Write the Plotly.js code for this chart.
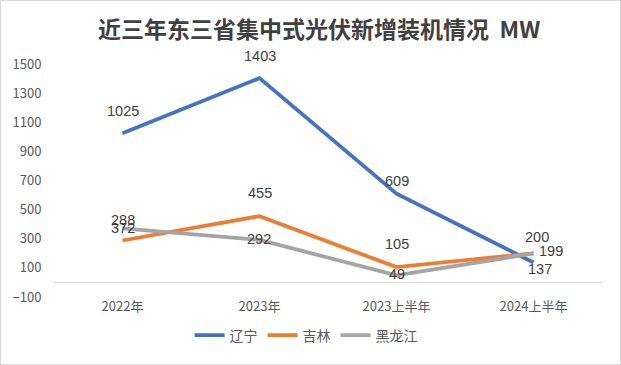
<!DOCTYPE html>
<html>
<head>
<meta charset="utf-8">
<script src="https://cdn.plot.ly/plotly-3.0.1.min.js"></script>
<style>
  html, body { margin: 0; padding: 0; background: #fff; }
  #chart { width: 621px; height: 365px; box-sizing: border-box; border: 1px solid #d9d9d9; }
</style>
</head>
<body>
<div id="chart"></div>
<script>
// ---- data ----
const categories = ['2022年', '2023年', '2023上半年', '2024上半年'];
const seriesNames = ['辽宁', '吉林', '黑龙江'];
const liaoning = [1025, 1403, 609, 137];
const jilin = [288, 455, 105, 200];
const heilongjiang = [372, 292, 49, 199];
const yTickVals = [-100, 100, 300, 500, 700, 900, 1100, 1300, 1500];

// ---- styles ----
const colors = ['#4472C4', '#ED7D31', '#A5A5A5'];
// label offsets (px) per series per point: [xshift, yshift]
const labelShifts = [
  [[0, 22], [0, 22], [0, 13], [6, -7]],
  [[0, 21], [0, 23], [0, 23], [3, 16]],
  [[0, 0], [-1, 1], [0, 1], [17, 2]]
];

const allSeries = [liaoning, jilin, heilongjiang];
const cjk = '"Noto Sans CJK SC", "Noto Sans", sans-serif';

const traces = allSeries.map((vals, i) => ({
  type: 'scatter',
  mode: 'lines',
  x: categories,
  y: vals,
  name: seriesNames[i],
  line: { color: colors[i], width: 3.8 },
  hoverinfo: 'skip'
}));

const annotations = [];
allSeries.forEach((vals, i) => {
  vals.forEach((v, j) => {
    annotations.push({
      x: categories[j], y: v, xref: 'x', yref: 'y',
      text: String(v), showarrow: false,
      xshift: labelShifts[i][j][0], yshift: labelShifts[i][j][1],
      font: { family: '"Liberation Sans", Arial, sans-serif', size: 14.5, color: '#404040' }
    });
  });
});

const layout = {
  width: 619, height: 363,
  margin: { l: 53, r: 18, t: 63, b: 63 },
  paper_bgcolor: '#ffffff', plot_bgcolor: '#ffffff',
  title: {
    text: '<b>近三年东三省集中式光伏新增装机情况\u00a0 MW</b>',
    font: { family: cjk, size: 23, color: '#404040' },
    x: 0.514, xref: 'container', xanchor: 'center',
    y: 1 - 29 / 363, yref: 'container', yanchor: 'middle'
  },
  xaxis: {
    type: 'category',
    range: [-0.5, 3.5],
    showgrid: false, showline: false, zeroline: false,
    ticks: '',
    tickfont: { family: cjk, size: 13, color: '#595959' },
    fixedrange: true
  },
  yaxis: {
    range: [-100, 1500],
    tickvals: yTickVals,
    showgrid: false, showline: false,
    zeroline: true, zerolinecolor: '#d9d9d9', zerolinewidth: 1,
    ticks: 'outside', ticklen: 9, tickcolor: 'rgba(0,0,0,0)',
    tickfont: { family: cjk, size: 13, color: '#595959' },
    fixedrange: true
  },
  showlegend: true,
  legend: {
    orientation: 'h',
    x: 0.46, xanchor: 'center',
    y: -0.165, yanchor: 'middle',
    font: { family: cjk, size: 14, color: '#595959' },
    bgcolor: 'rgba(0,0,0,0)'
  },
  annotations: annotations
};

Plotly.newPlot('chart', traces, layout, { displayModeBar: false, staticPlot: true });
</script>
</body>
</html>
